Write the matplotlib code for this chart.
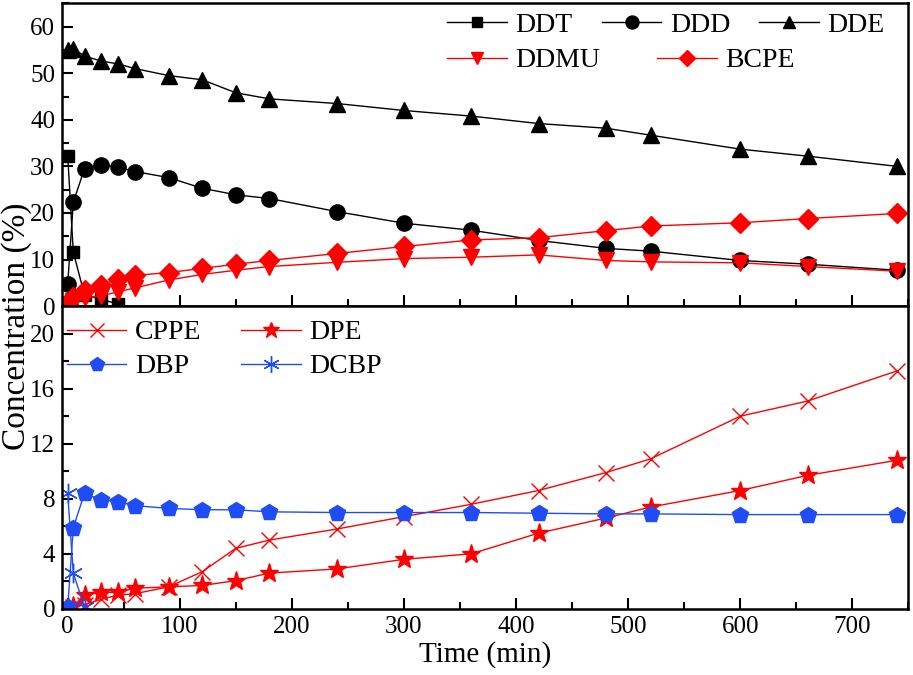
import numpy as np
import matplotlib
matplotlib.use("Agg")
import matplotlib.pyplot as plt
from matplotlib.ticker import MultipleLocator

plt.rcParams['font.family'] = ['Liberation Serif', 'DejaVu Serif']

# --------------------------------
# Data
# --------------------------------
t = [0, 5, 15, 30, 45, 60, 90, 120, 150, 180, 240, 300, 360, 420, 480, 520, 600, 660, 740]
t_ddt = [0, 5, 15, 30, 45]
t_dcbp = [0, 5, 15]

ddt = [32.3, 11.6, 2.4, 1.5, 0.4]
ddd = [4.7, 22.3, 29.5, 30.3, 29.8, 28.9, 27.6, 25.3, 23.9, 23.1, 20.3, 17.8, 16.3,
       14.1, 12.4, 11.8, 9.8, 9.0, 7.7]
dde = [55.0, 55.3, 53.7, 52.6, 52.0, 51.0, 49.5, 48.6, 45.8, 44.5, 43.5, 42.0, 40.8,
       39.2, 38.2, 36.7, 33.7, 32.2, 30.0]
ddmu = [0.2, 1.0, 1.8, 2.2, 3.1, 3.9, 5.6, 6.8, 7.7, 8.5, 9.4, 10.2, 10.5,
        11.0, 9.8, 9.5, 9.3, 8.5, 7.5]
bcpe = [0.5, 2.0, 3.5, 4.5, 5.9, 6.6, 7.2, 8.1, 9.0, 9.8, 11.3, 12.8, 14.2,
        14.7, 16.2, 17.2, 17.9, 18.8, 19.9]

cppe = [0.0, 0.1, 0.3, 0.7, 1.0, 1.1, 1.6, 2.7, 4.4, 5.0, 5.8, 6.7, 7.6,
        8.6, 9.9, 10.9, 14.0, 15.1, 17.3]
dpe = [0.1, 0.2, 1.0, 1.2, 1.2, 1.5, 1.6, 1.7, 2.05, 2.6, 2.9, 3.6, 4.0,
       5.5, 6.6, 7.4, 8.6, 9.7, 10.8]
dbp = [0.1, 5.9, 8.4, 7.9, 7.8, 7.5, 7.3, 7.2, 7.2, 7.05, 7.0, 7.0, 7.0,
       6.95, 6.9, 6.9, 6.85, 6.85, 6.85]
dcbp = [8.4, 2.6, 0.1]

red = '#ff0000'
blue = '#1f4cf5'

fig, (ax1, ax2) = plt.subplots(2, 1, sharex=True, figsize=(9.13, 6.75), dpi=100)
fig.subplots_adjust(left=0.068, right=0.995, top=0.995, bottom=0.098, hspace=0)

ms = 10
lw = 1.0
leg_kw = dict(frameon=False, fontsize=20, handlelength=2.15, handletextpad=0.3,
              borderpad=0.0, borderaxespad=0.0, labelspacing=0.3,
              loc='center left', bbox_transform=fig.transFigure)

# --------------------------------
# Top panel
# --------------------------------
h_ddt, = ax1.plot(t_ddt, ddt, 's-', color='k', ms=ms - 1, lw=lw, label='DDT')
h_ddd, = ax1.plot(t, ddd, 'o-', color='k', ms=ms + 1, lw=lw, label='DDD')
h_dde, = ax1.plot(t, dde, '^-', color='k', ms=ms + 1, lw=lw, label='DDE')
h_ddmu, = ax1.plot(t, ddmu, 'v-', color=red, ms=ms + 1, lw=lw, label='DDMU')
h_bcpe, = ax1.plot(t, bcpe, 'D-', color=red, ms=ms, lw=lw, label='BCPE')

# two legend rows, as in the original layout
leg1 = ax1.legend(handles=[h_ddt, h_ddd, h_dde], ncol=3, columnspacing=1.05,
                  markerscale=0.85, bbox_to_anchor=(0.49, 0.963), **leg_kw)
ax1.add_artist(leg1)
ax1.legend(handles=[h_ddmu, h_bcpe], ncol=2, columnspacing=2.05,
           markerscale=0.85, bbox_to_anchor=(0.49, 0.910), **leg_kw)

ax1.set_ylim(0, 65)
ax1.yaxis.set_major_locator(MultipleLocator(10))
ax1.yaxis.set_minor_locator(MultipleLocator(5))

# --------------------------------
# Bottom panel
# --------------------------------
h_cppe, = ax2.plot(t, cppe, 'x-', color=red, ms=ms + 2, mew=1.0, lw=lw, label='CPPE')
h_dpe, = ax2.plot(t, dpe, '*-', color=red, ms=ms + 4, lw=lw, label='DPE')
h_dbp, = ax2.plot(t, dbp, 'p-', color=blue, ms=ms + 2, lw=lw, label='DBP')
h_dcbp, = ax2.plot(t_dcbp, dcbp, '-', color=blue, marker=(6, 2, 0), ms=ms + 4,
                   mew=1.0, lw=lw, label='DCBP')

ax2.legend(handles=[h_cppe, h_dbp, h_dpe, h_dcbp], ncol=2, columnspacing=1.45,
           markerscale=0.85, bbox_to_anchor=(0.073, 0.482), **leg_kw)

ax2.set_ylim(0, 22)
ax2.yaxis.set_major_locator(MultipleLocator(4))
ax2.yaxis.set_minor_locator(MultipleLocator(2))

ax2.set_xlim(-5, 750)
ax2.xaxis.set_major_locator(MultipleLocator(100))
ax2.xaxis.set_minor_locator(MultipleLocator(50))
ax2.set_xlabel('Time (min)', fontsize=21, labelpad=2)

for ax in (ax1, ax2):
    ax.tick_params(which='both', direction='in', labelsize=18, width=1.5, pad=5)
    ax.tick_params(which='major', length=8)
    ax.tick_params(which='minor', length=5)
    for s in ax.spines.values():
        s.set_linewidth(1.8)

fig.text(0.001, 0.516, 'Concentration (%)', rotation=90, ha='left', va='center',
         fontsize=24)

plt.savefig('out.png', dpi=100)
